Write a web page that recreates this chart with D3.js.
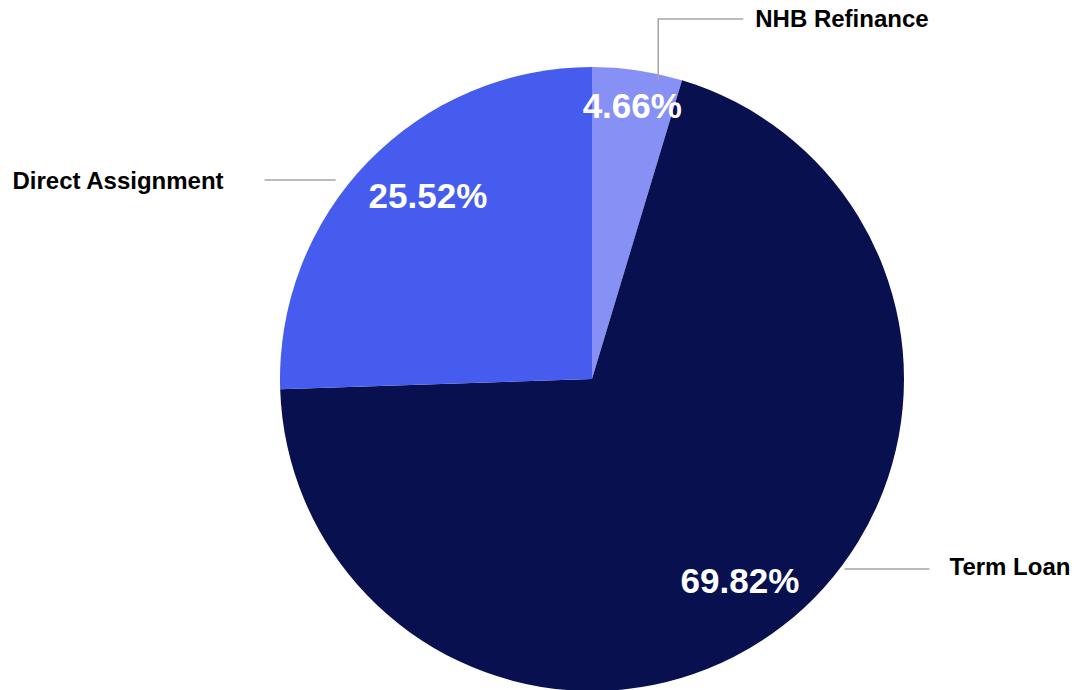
<!DOCTYPE html>
<html><head><meta charset="utf-8">
<script src="https://cdn.jsdelivr.net/npm/d3@7"></script>
<style>html,body{margin:0;padding:0;background:#fff;}svg{display:block;}</style>
</head><body>
<svg id="chart" width="1074" height="690"></svg>
<script>
// Data
const categories = ["NHB Refinance", "Term Loan", "Direct Assignment"];
const values = [4.66, 69.82, 25.52];
const valueLabels = ["4.66%", "69.82%", "25.52%"];
const colors = ["#8690F5", "#08104F", "#465CEE"];

const W = 1074, H = 690;
const cx = 592, cy = 379, R = 312;
const svg = d3.select("#chart");
const g = svg.append("g").attr("transform", `translate(${cx},${cy})`);

const pie = d3.pie().sort(null).value(d => d)(values);
const arc = d3.arc().innerRadius(0).outerRadius(R);

g.selectAll("path.slice").data(pie).join("path")
  .attr("class", "slice")
  .attr("d", arc)
  .attr("fill", (d, i) => colors[i]);

// value labels (radius fraction and angle nudge per slice)
const labelLayout = [
  {rf: 0.885, da: 0},
  {rf: 0.80, da: 1.2},
  {rf: 0.79, da: 4.2}
];
const deg = Math.PI / 180;
g.selectAll("text.val").data(pie).join("text")
  .attr("class", "val")
  .attr("transform", (d, i) => {
    const a = (d.startAngle + d.endAngle) / 2 + labelLayout[i].da * deg;
    const r = R * labelLayout[i].rf;
    return `translate(${r * Math.sin(a)},${-r * Math.cos(a)})`;
  })
  .attr("text-anchor", "middle")
  .attr("dy", "0.36em")
  .attr("fill", "#fff")
  .style("font-family", "Liberation Sans, Arial, sans-serif")
  .style("font-weight", "bold")
  .style("font-size", "35px")
  .text((d, i) => valueLabels[i]);

// leader lines & category labels
const pt = (aDeg, r) => [r * Math.sin(aDeg * deg), -r * Math.cos(aDeg * deg)];
const lineStyle = s => s.attr("fill", "none").attr("stroke", "#a6a6a6").attr("stroke-width", 1.5);
const labelStyle = s => s.style("font-family", "Liberation Sans, Arial, sans-serif")
  .style("font-weight", "bold").style("font-size", "24px").attr("fill", "#000");

// NHB Refinance: elbow up then right
{
  const p = pt(12.5, R - 6);
  const topY = -R - 48;
  const pts = [p, [p[0], topY], [p[0] + 85, topY]];
  g.append("path").attr("d", d3.line()(pts)).call(lineStyle);
  g.append("text").attr("x", p[0] + 97).attr("y", topY).attr("dy", "0.35em")
    .attr("text-anchor", "start").call(labelStyle).text(categories[0]);
}
// Term Loan: horizontal to right
{
  const p = pt(127.5, R);
  const pts = [[p[0] + 5, p[1]], [p[0] + 90, p[1]]];
  g.append("path").attr("d", d3.line()(pts)).call(lineStyle);
  g.append("text").attr("x", p[0] + 110).attr("y", p[1] - 2).attr("dy", "0.35em")
    .attr("text-anchor", "start").call(labelStyle).text(categories[1]);
}
// Direct Assignment: horizontal to left
{
  const p = pt(-50.4, R);
  const pts = [[p[0] - 16, p[1]], [p[0] - 87, p[1]]];
  g.append("path").attr("d", d3.line()(pts)).call(lineStyle);
  g.append("text").attr("x", p[0] - 128).attr("y", p[1]).attr("dy", "0.35em")
    .attr("text-anchor", "end").call(labelStyle).text(categories[2]);
}
</script>
</body></html>
